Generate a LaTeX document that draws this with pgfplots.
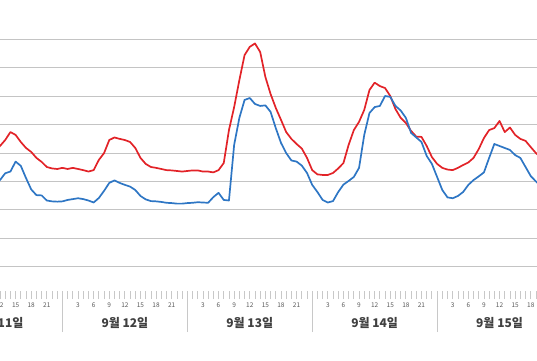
\documentclass[border=0pt]{standalone}
\usepackage{pgfplots}
\usepackage{pgfplotstable}
\pgfplotsset{compat=1.18}
\usepackage{fontspec}
\newfontfamily\kr{Noto Sans CJK KR}
\definecolor{gridgray}{RGB}{196,196,196}
\definecolor{tickgray}{RGB}{200,200,200}
\definecolor{labelgray}{RGB}{89,89,89}
\definecolor{daygray}{RGB}{64,64,64}
\definecolor{redline}{RGB}{226,35,40}
\definecolor{blueline}{RGB}{46,118,196}
\pgfplotstableread{
h red blue
11 40.4 29.5
12 42.5 30.5
13 44.6 32.9
14 47.4 33.5
15 46.4 37.0
16 43.9 35.5
17 41.8 31.2
18 40.4 27.2
19 38.3 25.2
20 36.9 25.1
21 35.1 23.3
22 34.6 23.0
23 34.4 22.9
24 34.8 23.0
25 34.4 23.5
26 34.8 23.8
27 34.4 24.1
28 34.0 23.8
29 33.5 23.3
30 34.0 22.6
31 37.6 24.2
32 40.0 26.7
33 44.6 29.5
34 45.5 30.4
35 45.0 29.5
36 44.6 28.8
37 43.9 28.2
38 41.8 27.0
39 38.3 24.9
40 36.2 23.7
41 35.1 23.1
42 34.8 23.0
43 34.4 22.8
44 34.0 22.5
45 33.9 22.4
46 33.7 22.2
47 33.5 22.2
48 33.7 22.4
49 33.9 22.5
50 33.9 22.7
51 33.5 22.6
52 33.5 22.5
53 33.2 24.5
54 34.0 26.0
55 36.5 23.5
56 48.1 23.3
57 56.2 42.9
58 65.7 52.4
59 74.5 58.7
60 77.4 59.4
61 78.6 57.3
62 75.6 56.6
63 66.8 56.8
64 60.8 54.5
65 55.9 48.8
66 51.7 43.6
67 47.4 40.0
68 45.0 37.4
69 43.2 37.0
70 41.6 35.6
71 38.3 33.0
72 34.0 28.8
73 32.5 26.3
74 32.3 23.5
75 32.3 22.6
76 33.0 23.1
77 34.6 26.3
78 36.5 28.9
79 42.9 30.2
80 48.1 31.6
81 51.0 34.8
82 55.2 46.4
83 62.2 54.1
84 64.8 56.2
85 63.6 56.6
86 62.9 60.1
87 60.1 59.8
88 55.5 56.6
89 52.4 55.0
90 50.6 52.4
91 47.8 47.1
92 45.8 45.5
93 45.7 43.9
94 42.5 39.0
95 38.6 36.2
96 36.2 31.6
97 34.8 27.0
98 34.2 24.4
99 34.0 24.1
100 34.8 24.9
101 35.8 26.3
102 36.7 28.8
103 38.3 30.5
104 41.4 31.8
105 45.3 33.2
106 48.1 38.3
107 48.8 43.2
108 51.3 42.5
109 47.4 41.8
110 49.0 41.1
111 46.4 39.3
112 45.0 38.3
113 44.3 35.1
114 42.1 31.9
115 40.0 30.0
116 38.3 28.4
}\datatable
\tikzset{daylabel/.style={font=\kr\bfseries\fontsize{12}{14}\selectfont, text=daygray, yshift=-32pt}}
\begin{document}
\begin{tikzpicture}[x=1pt,y=1pt]
\useasboundingbox (0,0) rectangle (537,360);
\begin{axis}[
  at={(0pt,69pt)}, anchor=south west,
  scale only axis, width=537pt, height=291pt,
  xmin=12, xmax=115.2, ymin=-8.56, ymax=93.9,
  axis line style={draw=none},
  tick pos=left,
  ytick={0,10,...,80}, yticklabels={},
  ymajorgrids,
  major grid style={color=gridgray, line width=1pt},
  ytick style={draw=none},
  xtick={12,15,18,21,27,30,33,36,39,42,45,51,54,57,60,63,66,69,75,78,81,84,87,90,93,99,102,105,108,111,114},
  xticklabels={12,15,18,21,3,6,9,12,15,18,21,3,6,9,12,15,18,21,3,6,9,12,15,18,21,3,6,9,12,15,18},
  minor xtick={12,...,116},
  tick align=outside,
  xtick style={color=tickgray, line width=0.8pt},
  major tick length=8pt, minor tick length=8pt,
  extra x ticks={24,48,72,96},
  extra x tick labels={},
  extra x tick style={major tick length=41pt, xtick style={color=tickgray, line width=1pt}, grid=none},
  xticklabel style={font=\kr\fontsize{6.5}{7}\selectfont, text=labelgray},
  /pgf/number format/assume math mode=true,
  clip mode=individual,
]
\addplot[color=redline, line width=1.7pt, line join=round] table[x=h, y=red] {\datatable};
\addplot[color=blueline, line width=1.7pt, line join=round] table[x=h, y=blue] {\datatable};
\node[daylabel] at (axis cs:12,-8.56) {9월 11일};
\node[daylabel] at (axis cs:36,-8.56) {9월 12일};
\node[daylabel] at (axis cs:60,-8.56) {9월 13일};
\node[daylabel] at (axis cs:84,-8.56) {9월 14일};
\node[daylabel] at (axis cs:108,-8.56) {9월 15일};
\end{axis}
\end{tikzpicture}
\end{document}
